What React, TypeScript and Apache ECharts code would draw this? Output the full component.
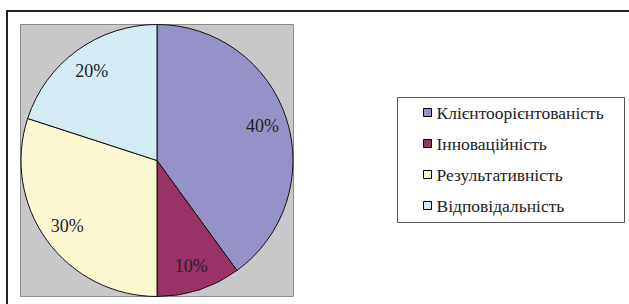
import React, { useEffect, useRef } from "react";
import * as echarts from "echarts";

const categories = ["Клієнтоорієнтованість", "Інноваційність", "Результативність", "Відповідальність"];
const values = [40, 10, 30, 20];
const colors = ["#9492c7", "#993366", "#fbf8d2", "#d4ecf3"];

const FONT = "'Liberation Serif', 'Times New Roman', serif";

export default function App() {
  const ref = useRef<HTMLDivElement>(null);
  useEffect(() => {
    const chart = echarts.init(ref.current!, null, { renderer: "svg" });
    const data = categories.map((name, i) => ({ name, value: values[i], itemStyle: { color: colors[i] } }));
    chart.setOption({
      animation: false,
      graphic: [
        {
          type: "rect",
          z: 0,
          shape: { x: 7, y: 11, width: 640, height: 320 },
          style: { fill: "#ffffff", stroke: "#222222", lineWidth: 2 },
          silent: true,
        },
        {
          type: "rect",
          z: 1,
          shape: { x: 20.5, y: 24.5, width: 273, height: 272 },
          style: { fill: "#c8c8ca", stroke: "#8a8a8a", lineWidth: 1 },
          silent: true,
        },
        {
          type: "rect",
          z: 1,
          shape: { x: 397.5, y: 97.5, width: 227, height: 125 },
          style: { fill: "#ffffff", stroke: "#555555", lineWidth: 1 },
          silent: true,
        },
      ],
      legend: {
        orient: "vertical",
        left: 423,
        top: 97,
        padding: 0,
        itemWidth: 8,
        itemHeight: 8,
        itemGap: 0,
        itemTextGap: 3,
        icon: "rect",
        selectedMode: false,
        data: categories,
        itemStyle: { borderColor: "#000", borderWidth: 1 },
        textStyle: { fontSize: 17.5, fontFamily: FONT, color: "#222", lineHeight: 31 },
      },
      series: [
        {
          type: "pie",
          center: [157, 160.5],
          radius: 136,
          startAngle: 90,
          clockwise: true,
          silent: true,
          itemStyle: { borderColor: "#111", borderWidth: 1 },
          label: { show: false },
          labelLine: { show: false },
          data,
        },
        {
          type: "pie",
          center: [157, 160.5],
          radius: [80, 136],
          startAngle: 90,
          clockwise: true,
          silent: true,
          itemStyle: { color: "rgba(0,0,0,0)", borderWidth: 0 },
          label: {
            show: true,
            position: "inside",
            formatter: "{c}%",
            fontSize: 18,
            fontFamily: FONT,
            color: "#222",
          },
          labelLine: { show: false },
          data: categories.map((name, i) => ({ name, value: values[i] })),
        },
      ],
    });
    return () => chart.dispose();
  }, []);
  return (
    <div
      ref={ref}
      style={{ position: "fixed", left: 0, top: 0, width: 629, height: 304, background: "#fff" }}
    />
  );
}
